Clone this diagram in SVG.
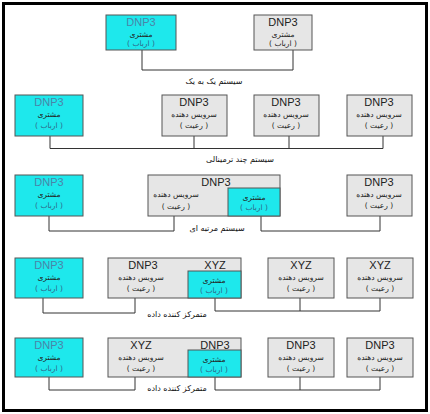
<svg xmlns="http://www.w3.org/2000/svg" width="430" height="414" viewBox="0 0 430 414">
<style>
.c{fill:#1ee8ec;stroke:#555;stroke-width:1}
.g{fill:#e6e6e6;stroke:#555;stroke-width:1}
.t{font-family:"Liberation Sans",Arial,sans-serif;font-size:11px;text-anchor:middle;fill:#222}
.tc{fill:#4a84a8}
.p{font-family:"DejaVu Sans",sans-serif;font-size:7.5px;text-anchor:middle;fill:#222;direction:rtl}
.pc{fill:#2f6688}
.cap{font-family:"DejaVu Sans",sans-serif;font-size:8px;text-anchor:middle;fill:#111;direction:rtl}
.ln{fill:none;stroke:#333;stroke-width:1}
</style>
<rect x="0" y="0" width="430" height="414" fill="#fff"/>
<rect x="3.5" y="3.5" width="423" height="407" fill="none" stroke="#000" stroke-width="3"/>
<g id="connectors" class="ln">
<polyline points="142,50 142,70 293,70 293,50"/>
<polyline points="50,136 50,148.5 383,148.5 383,136"/>
<line x1="194" y1="136" x2="194" y2="148.5"/>
<line x1="289" y1="136" x2="289" y2="148.5"/>
<polyline points="49,216 49,231 174,231 174,216"/>
<polyline points="261,216 261,231 380,231 380,216"/>
<polyline points="43,298 43,313 135,313 135,298"/>
<polyline points="215,298 215,311 380,311 380,298"/>
<line x1="300" y1="298" x2="300" y2="311"/>
<polyline points="49,377 49,390 135,390 135,377"/>
<polyline points="215,377 215,390 380,390 380,377"/>
<line x1="300" y1="377" x2="300" y2="390"/>
</g>
<g id="captions">
<text class="cap" x="214" y="84">سیستم یک به یک</text>
<text class="cap" x="240" y="162">سیستم چند ترمینالی</text>
<text class="cap" x="217" y="231">سیستم مرتبه ای</text>
<text class="cap" x="177" y="317">متمرکز کننده داده</text>
<text class="cap" x="177" y="391">متمرکز کننده داده</text>
</g>
<!-- Row 1 -->
<g id="r1-master">
<rect class="c" x="106" y="15" width="70" height="35"/>
<text class="t tc" x="141" y="26">DNP3</text>
<text class="p" x="141" y="37">مشتری</text>
<text class="p pc" x="141" y="46">( ارباب )</text>
</g>
<g id="r1-master2">
<rect class="g" x="254" y="15" width="58" height="35"/>
<text class="t" x="283" y="26">DNP3</text>
<text class="p" x="283" y="37">مشتری</text>
<text class="p" x="283" y="46">( ارباب )</text>
</g>
<!-- Row 2 -->
<g id="r2-master">
<rect class="c" x="15" y="95" width="68" height="41"/>
<text class="t tc" x="49" y="106">DNP3</text>
<text class="p" x="49" y="117">مشتری</text>
<text class="p pc" x="49" y="128">( ارباب )</text>
</g>
<g id="r2-out1">
<rect class="g" x="162" y="95" width="65" height="41"/>
<text class="t" x="194" y="106">DNP3</text>
<text class="p" x="194" y="117">سرویس دهنده</text>
<text class="p" x="194" y="128">( رعیت )</text>
</g>
<g id="r2-out2">
<rect class="g" x="254" y="95" width="65" height="41"/>
<text class="t" x="286" y="106">DNP3</text>
<text class="p" x="286" y="117">سرویس دهنده</text>
<text class="p" x="286" y="128">( رعیت )</text>
</g>
<g id="r2-out3">
<rect class="g" x="347" y="95" width="65" height="41"/>
<text class="t" x="379" y="106">DNP3</text>
<text class="p" x="379" y="117">سرویس دهنده</text>
<text class="p" x="379" y="128">( رعیت )</text>
</g>
<!-- Row 3 -->
<g id="r3-master">
<rect class="c" x="15" y="175" width="68" height="41"/>
<text class="t tc" x="49" y="186">DNP3</text>
<text class="p" x="49" y="197">مشتری</text>
<text class="p pc" x="49" y="208">( ارباب )</text>
</g>
<g id="r3-mid">
<rect class="g" x="148" y="175" width="132" height="41"/>
<rect class="c" x="228" y="188" width="52" height="28"/>
<text class="t" x="216" y="186">DNP3</text>
<text class="p" x="176" y="197">سرویس دهنده</text>
<text class="p" x="176" y="209">( رعیت )</text>
<text class="p" x="254" y="200">مشتری</text>
<text class="p pc" x="254" y="210">( ارباب )</text>
</g>
<g id="r3-out">
<rect class="g" x="347" y="175" width="65" height="41"/>
<text class="t" x="379" y="186">DNP3</text>
<text class="p" x="379" y="197">سرویس دهنده</text>
<text class="p" x="379" y="208">( رعیت )</text>
</g>
<!-- Row 4 -->
<g id="r4-master">
<rect class="c" x="15" y="258" width="68" height="40"/>
<text class="t tc" x="49" y="269">DNP3</text>
<text class="p" x="49" y="280">مشتری</text>
<text class="p pc" x="49" y="291">( ارباب )</text>
</g>
<g id="r4-conc">
<rect class="g" x="108" y="258" width="133" height="40"/>
<rect class="c" x="188" y="271" width="53" height="27"/>
<text class="t" x="143" y="269">DNP3</text>
<text class="t" x="215" y="269">XYZ</text>
<text class="p" x="141" y="280">سرویس دهنده</text>
<text class="p" x="141" y="291">( رعیت )</text>
<text class="p" x="214" y="283">مشتری</text>
<text class="p pc" x="214" y="293">( ارباب )</text>
</g>
<g id="r4-out1">
<rect class="g" x="268" y="258" width="66" height="40"/>
<text class="t" x="301" y="269">XYZ</text>
<text class="p" x="301" y="280">سرویس دهنده</text>
<text class="p" x="301" y="291">( رعیت )</text>
</g>
<g id="r4-out2">
<rect class="g" x="347" y="258" width="66" height="40"/>
<text class="t" x="380" y="269">XYZ</text>
<text class="p" x="380" y="280">سرویس دهنده</text>
<text class="p" x="380" y="291">( رعیت )</text>
</g>
<!-- Row 5 -->
<g id="r5-master">
<rect class="c" x="15" y="338" width="68" height="39"/>
<text class="t tc" x="49" y="349">DNP3</text>
<text class="p" x="49" y="360">مشتری</text>
<text class="p pc" x="49" y="371">( ارباب )</text>
</g>
<g id="r5-conc">
<rect class="g" x="108" y="338" width="133" height="39"/>
<rect class="c" x="188" y="350" width="53" height="27"/>
<text class="t" x="141" y="349">XYZ</text>
<text class="t" x="215" y="349">DNP3</text>
<text class="p" x="141" y="360">سرویس دهنده</text>
<text class="p" x="141" y="371">( رعیت )</text>
<text class="p" x="214" y="362">مشتری</text>
<text class="p pc" x="214" y="372">( ارباب )</text>
</g>
<g id="r5-out1">
<rect class="g" x="268" y="338" width="66" height="39"/>
<text class="t" x="301" y="349">DNP3</text>
<text class="p" x="301" y="360">سرویس دهنده</text>
<text class="p" x="301" y="371">( رعیت )</text>
</g>
<g id="r5-out2">
<rect class="g" x="347" y="338" width="66" height="39"/>
<text class="t" x="380" y="349">DNP3</text>
<text class="p" x="380" y="360">سرویس دهنده</text>
<text class="p" x="380" y="371">( رعیت )</text>
</g>
</svg>
